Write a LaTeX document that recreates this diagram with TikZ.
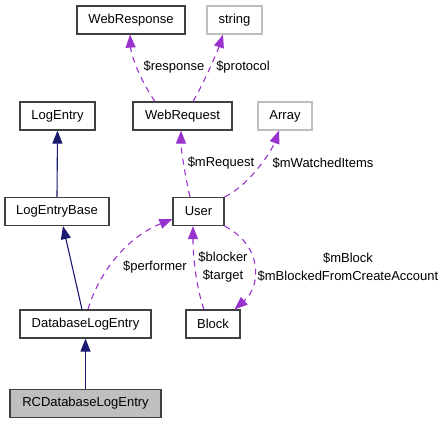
\documentclass[tikz,border=0pt]{standalone}
\usepackage{fontspec}
\setmainfont{Liberation Sans}
\usetikzlibrary{arrows.meta}
\definecolor{inhblue}{HTML}{191970}
\definecolor{usepurple}{HTML}{9A32CD}
\definecolor{extgray}{HTML}{BFBFBF}
\begin{document}
\begin{tikzpicture}[
			x=1pt, y=-1pt,
			>={Triangle[length=13pt, width=10pt]},
			cls/.style={rectangle, draw=black!75, line width=1.2pt, inner sep=0pt, minimum height=28pt, font=\fontsize{13}{18}\selectfont},
			extcls/.style={cls, draw=extgray},
			curcls/.style={cls, fill=extgray},
			inherit/.style={->, draw=inhblue, line width=1.1pt},
			uses/.style={->, draw=usepurple, line width=1.1pt, dash pattern=on 6pt off 5pt},
			label_text/.style={font=\fontsize{13}{18}\selectfont, inner sep=0pt, align=center}
			]
			\useasboundingbox (0,0) rectangle (445,424);
			
			% Top row
			\node[cls, minimum width=108pt] (WebResponse) at (131, 20) {WebResponse};
			\node[extcls, minimum width=55pt] (string) at (234.5, 20) {string};
			
			% Second row
			\node[cls, minimum width=75pt] (LogEntry) at (57.5, 116) {LogEntry};
			\node[cls, minimum width=99pt] (WebRequest) at (182.5, 116) {WebRequest};
			\node[extcls, minimum width=54pt] (Array) at (285, 116) {Array};
			
			% Third row
			\node[cls, minimum width=104pt] (LogEntryBase) at (57, 211.5) {LogEntryBase};
			\node[cls, minimum width=51pt] (User) at (198.5, 211.5) {User};
			
			% Fourth row
			\node[cls, minimum width=131pt] (DatabaseLogEntry) at (85.5, 324) {DatabaseLogEntry};
			\node[cls, minimum width=54pt] (Block) at (213, 324) {Block};
			
			% Current class
			\node[curcls, minimum width=151pt] (RCDatabaseLogEntry) at (85.5, 403.5) {RCDatabaseLogEntry};
			
			% Inheritance
			\draw[inherit] (LogEntryBase.north) -- (LogEntry.south);
			\draw[inherit] ([xshift=-3.5pt]DatabaseLogEntry.north) -- ([xshift=6pt]LogEntryBase.south);
			\draw[inherit] (RCDatabaseLogEntry.north) -- (DatabaseLogEntry.south);
			
			% WebRequest members
			\draw[uses] ([xshift=-27.5pt]WebRequest.north) .. controls (140, 80) and (131, 55) .. ([xshift=-1pt]WebResponse.south);
			\node[label_text] (lbl_response) at (174, 67) {\$response};
			\draw[uses] ([xshift=10.5pt]WebRequest.north) .. controls (203, 85) and (218, 50) .. ([xshift=-11.5pt]string.south);
			\node[label_text] (lbl_protocol) at (243, 67) {\$protocol};
			
			% User members
			\draw[uses] ([xshift=-8.5pt]User.north) .. controls (185, 175) and (181, 150) .. ([xshift=-1.5pt]WebRequest.south);
			\node[label_text] (lbl_request) at (221, 163) {\$mRequest};
			\draw[uses] (User.north east) .. controls (250, 185) and (272, 150) .. ([xshift=-6pt]Array.south);
			\node[label_text] (lbl_watched) at (323, 163) {\$mWatchedItems};
			\draw[uses] (User.south east) .. controls (262, 245) and (262, 285) .. ([xshift=-6pt]Block.north east);
			\node[label_text] (lbl_mblock) at (348, 267) {\$mBlock\\\$mBlockedFromCreateAccount};
			
			% Members pointing to User
			\draw[uses] ([xshift=2.5pt]DatabaseLogEntry.north) .. controls (98, 275) and (125, 238) .. ([yshift=-7.5pt]User.west);
			\node[label_text] (lbl_performer) at (155, 267) {\$performer};
			\draw[uses] ([xshift=-9pt]Block.north) .. controls (197, 290) and (193, 260) .. ([xshift=-5.5pt]User.south);
			\node[label_text] (lbl_blocker) at (223, 267) {\$blocker\\\$target};
			
		\end{tikzpicture}
\end{document}
